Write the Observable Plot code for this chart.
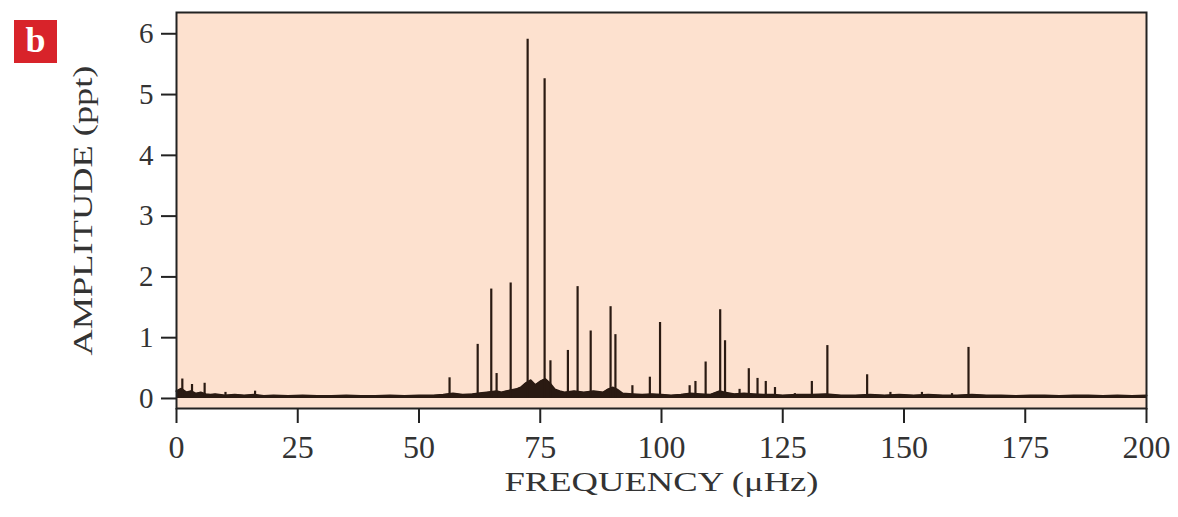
<!DOCTYPE html>
<html><head><meta charset="utf-8">
<script src="https://cdn.jsdelivr.net/npm/d3@7"></script>
<script src="https://cdn.jsdelivr.net/npm/@observablehq/plot@0.6"></script>
<style>
body{margin:0;background:#fff;}
#wrap{position:relative;width:1178px;height:517px;}
#badge{position:absolute;left:14px;top:20px;width:43px;height:43px;background:#d8232a;color:#fff;font:bold 36px 'Liberation Serif',serif;text-align:center;line-height:40px;}
#chart{position:absolute;left:0;top:0;}
</style></head><body><div id="wrap"><div id="chart"></div><div id="badge">b</div></div>
<script>
// Frequencies (µHz) and amplitudes (ppt) of the individual peaks
const peakFreq = [1.2, 3.2, 5.8, 10.1, 16.2, 56.3, 62.1, 64.9, 66.0, 68.9, 72.4, 75.9, 77.1, 80.7, 82.7, 85.4, 89.5, 90.5, 94.0, 97.6, 99.7, 105.8, 107.0, 109.1, 112.1, 113.1, 116.1, 118.0, 119.8, 121.5, 123.4, 127.5, 131.0, 134.2, 142.4, 147.2, 153.7, 159.9, 163.3];
const peakAmp  = [0.32, 0.23, 0.25, 0.10, 0.12, 0.34, 0.89, 1.80, 0.41, 1.90, 5.91, 5.26, 0.62, 0.79, 1.84, 1.11, 1.51, 1.05, 0.21, 0.35, 1.25, 0.21, 0.28, 0.60, 1.46, 0.95, 0.15, 0.49, 0.33, 0.28, 0.18, 0.08, 0.28, 0.87, 0.39, 0.10, 0.10, 0.08, 0.84];
// Noise floor of the spectrum
const noiseFreq = [0, 1, 2, 3, 4, 5, 6, 7, 8, 10, 12, 14, 16, 18, 20, 23, 26, 29, 32, 35, 38, 41, 44, 47, 50, 53, 55, 57, 59, 61, 63, 64, 66, 67, 68, 70, 71, 72, 73, 74, 75, 76, 77, 78, 79, 80, 82, 84, 86, 88, 89, 90, 91, 92, 94, 96, 98, 100, 102, 104, 106, 108, 110, 112, 113, 115, 117, 119, 121, 123, 125, 128, 131, 134, 137, 140, 143, 146, 149, 152, 155, 158, 161, 164, 167, 170, 173, 176, 179, 182, 185, 188, 191, 194, 197, 200];
const noiseAmp  = [0.12, 0.16, 0.10, 0.12, 0.08, 0.10, 0.07, 0.06, 0.07, 0.05, 0.06, 0.05, 0.06, 0.04, 0.05, 0.04, 0.05, 0.04, 0.04, 0.05, 0.04, 0.04, 0.05, 0.04, 0.05, 0.05, 0.06, 0.08, 0.06, 0.07, 0.09, 0.10, 0.12, 0.10, 0.12, 0.15, 0.18, 0.25, 0.30, 0.22, 0.28, 0.32, 0.25, 0.15, 0.12, 0.10, 0.12, 0.10, 0.12, 0.10, 0.15, 0.18, 0.14, 0.08, 0.07, 0.06, 0.07, 0.06, 0.05, 0.06, 0.08, 0.07, 0.06, 0.12, 0.10, 0.07, 0.08, 0.07, 0.06, 0.06, 0.05, 0.06, 0.06, 0.07, 0.05, 0.05, 0.06, 0.05, 0.06, 0.05, 0.06, 0.05, 0.05, 0.06, 0.05, 0.05, 0.04, 0.05, 0.05, 0.04, 0.05, 0.05, 0.04, 0.05, 0.04, 0.05];
const xTicks = [0, 25, 50, 75, 100, 125, 150, 175, 200];
const yTicks = [0, 1, 2, 3, 4, 5, 6];
const xTitle = "FREQUENCY (μHz)";
const yTitle = "AMPLITUDE (ppt)";

const peaks = peakFreq.map((f, i) => ({f, a: peakAmp[i]}));
const noise = noiseFreq.map((f, i) => ({f, a: noiseAmp[i]}));
const ink = "#2a1a12";
const axisInk = "#222";

const chart = Plot.plot({
  width: 1178, height: 517,
  marginTop: 12, marginBottom: 109, marginLeft: 176, marginRight: 32,
  style: {fontFamily: "'Liberation Serif', serif", color: "#333", background: "transparent", overflow: "visible"},
  x: {domain: [0, 200]},
  y: {domain: [-0.165, 6.35]},
  marks: [
    Plot.frame({fill: "#fde1cf", stroke: null}),
    Plot.areaY(noise, {x: "f", y: "a", fill: ink}),
    Plot.lineY(noise, {x: "f", y: "a", stroke: ink, strokeWidth: 2}),
    Plot.ruleX(peaks, {x: "f", y1: 0, y2: "a", stroke: ink, strokeWidth: 2.2}),
    Plot.frame({stroke: axisInk, strokeWidth: 2}),
    Plot.axisX({ticks: xTicks, tickFormat: d => String(d), tickSize: 15, tickPadding: 12, strokeWidth: 2, stroke: axisInk, fontSize: 32,
      label: xTitle, labelAnchor: "center", labelArrow: "none", labelOffset: 82}),
    Plot.axisY({ticks: yTicks, tickFormat: d => String(d), tickSize: 15, tickPadding: 8, strokeWidth: 2, stroke: axisInk, fontSize: 29,
      label: yTitle, labelAnchor: "center", labelArrow: "none", labelOffset: 104})
  ]
});
document.getElementById("chart").appendChild(chart);
const svg = d3.select(chart);
svg.selectAll('[aria-label="x-axis label"] text').style("font-size", "27px").attr("textLength", 314).attr("lengthAdjust", "spacingAndGlyphs");
svg.selectAll('[aria-label="y-axis label"] text').style("font-size", "28px").attr("textLength", 290).attr("lengthAdjust", "spacingAndGlyphs");
</script>
</body></html>
